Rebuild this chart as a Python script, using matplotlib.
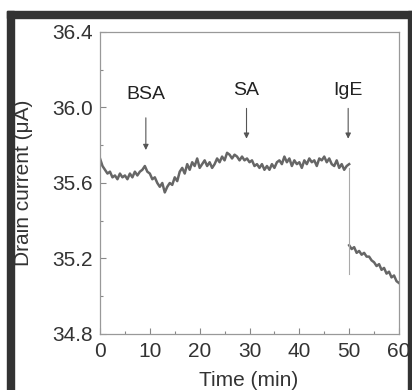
"""Drain current vs time with BSA / SA / IgE injection marks (scanned-figure look)."""
import numpy as np
import matplotlib; matplotlib.use('Agg'); import matplotlib.pyplot as plt
from matplotlib.patches import Rectangle
from matplotlib.ticker import MultipleLocator

plt.rcParams['font.family'] = ['Liberation Sans', 'DejaVu Sans']

# trace before IgE, sampled every 0.5 min from 0 to 50
t1 = np.arange(0, 50.01, 0.5)
i1 = [35.73, 35.69, 35.67, 35.65, 35.66, 35.63, 35.64, 35.62, 35.65, 35.63,
      35.64, 35.62, 35.65, 35.63, 35.66, 35.64, 35.66, 35.67, 35.69, 35.66,
      35.65, 35.62, 35.63, 35.60, 35.58, 35.60, 35.55, 35.58, 35.60, 35.59,
      35.63, 35.61, 35.66, 35.68, 35.65, 35.70, 35.67, 35.71, 35.69, 35.73,
      35.68, 35.70, 35.72, 35.69, 35.71, 35.68, 35.70, 35.73, 35.71, 35.74,
      35.72, 35.76, 35.75, 35.73, 35.75, 35.74, 35.72, 35.74, 35.72, 35.73,
      35.71, 35.72, 35.69, 35.70, 35.68, 35.70, 35.67, 35.69, 35.67, 35.70,
      35.68, 35.71, 35.72, 35.70, 35.74, 35.71, 35.73, 35.69, 35.72, 35.70,
      35.71, 35.68, 35.72, 35.70, 35.73, 35.71, 35.72, 35.69, 35.73, 35.72,
      35.74, 35.71, 35.73, 35.70, 35.69, 35.72, 35.68, 35.70, 35.67, 35.69,
      35.70]
# trace after IgE, 50 to 60 min
t2 = np.arange(50, 60.01, 0.5)
i2 = [35.27, 35.25, 35.26, 35.23, 35.24, 35.22, 35.23, 35.21, 35.21, 35.19,
      35.18, 35.16, 35.17, 35.14, 35.15, 35.12, 35.13, 35.10, 35.11, 35.08,
      35.07]
# thin drop line at the IgE injection
drop_t = [50, 50]
drop_i = [35.68, 35.12]

# injection markers: label, time, label y, arrow tail y, arrow head y
labels = ['BSA', 'SA', 'IgE']
inj_t = [9.2, 29.4, 49.8]
lab_y = [36.07, 36.09, 36.09]
tail_y = [35.96, 36.01, 36.01]
head_y = [35.76, 35.82, 35.82]

fig = plt.figure(figsize=(4.12, 3.90), dpi=100)
ax = fig.add_axes([100/412, 56/390, 299/412, 302/390])

ax.plot(t1, i1, color='#666666', lw=1.8)
ax.plot(t2, i2, color='#666666', lw=1.8)
ax.plot(drop_t, drop_i, color='#aaaaaa', lw=0.8)

for lab, t, ly, ty, hy in zip(labels, inj_t, lab_y, tail_y, head_y):
    ax.text(t, ly, lab, ha='center', va='center', fontsize=14, color='#222222')
    ax.annotate('', xy=(t, hy), xytext=(t, ty),
                arrowprops=dict(arrowstyle='-|>', color='#555555', lw=0.8, mutation_scale=8))

ax.set_xlim(0, 60); ax.set_ylim(34.8, 36.4)
ax.xaxis.set_major_locator(MultipleLocator(10)); ax.xaxis.set_minor_locator(MultipleLocator(5))
ax.yaxis.set_major_locator(MultipleLocator(0.4)); ax.yaxis.set_minor_locator(MultipleLocator(0.2))
ax.yaxis.set_major_formatter(plt.FuncFormatter(lambda v, p: f'{v:.1f}'))
ax.tick_params(which='both', direction='in', color='#888888', labelsize=15, labelcolor='#333333')
ax.tick_params(which='major', length=4, width=0.8)
ax.tick_params(which='minor', length=2, width=0.8)
ax.tick_params(axis='x', pad=6); ax.tick_params(axis='y', pad=5)
for s in ax.spines.values():
    s.set_color('#999999'); s.set_linewidth(0.9)

fig.text(249/412, 1 - 380/390, 'Time (min)', ha='center', va='center', fontsize=15, color='#333333')
fig.text(24/412, 1 - 183/390, 'Drain current (μA)', ha='center', va='center',
         rotation=90, fontsize=15, color='#333333')

# dark scan border
for x0, y0, w, h in [(7, 11, 7, 379), (7, 11, 405, 7), (408, 11, 4, 379)]:
    fig.patches.append(Rectangle((x0/412, 1 - (y0 + h)/390), w/412, h/390,
                                 transform=fig.transFigure, color='#333333', zorder=0))

fig.savefig('out.png', dpi=100)
